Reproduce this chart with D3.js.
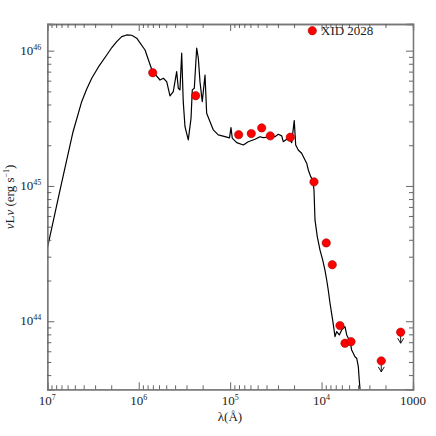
<!DOCTYPE html>
<html>
<head>
<meta charset="utf-8">
<script src="https://cdnjs.cloudflare.com/ajax/libs/d3/7.8.5/d3.min.js"></script>
<style>
  body { margin: 0; background: #fff; }
  text { font-family: "Liberation Serif", "DejaVu Serif", serif; fill: #222; }
</style>
</head>
<body>
<div id="chart"></div>
<script>
// template SED, log10 lambda (A) and log10 nuLnu (erg/s)
var sedLogLam = [7.000, 6.861, 6.719, 6.624, 6.571, 6.514, 6.431, 6.350, 6.292, 6.241, 6.186, 6.132,
  6.077, 6.022, 5.931,
  5.852, 5.767, 5.731, 5.694, 5.658, 5.622, 5.585, 5.567, 5.549, 5.530,
  5.513, 5.494, 5.458, 5.428, 5.414, 5.392, 5.366, 5.348, 5.330, 5.305,
  5.275, 5.257, 5.220, 5.184, 5.130, 5.056, 5.007, 4.991, 4.977, 4.928,
  4.856, 4.802, 4.728, 4.674, 4.638, 4.583, 4.510, 4.474, 4.436, 4.419,
  4.382, 4.345, 4.327, 4.299, 4.283, 4.255, 4.218, 4.181, 4.163, 4.145,
  4.119, 4.097, 4.083, 4.072, 4.047, 4.017, 3.988, 3.963, 3.944, 3.927,
  3.908, 3.879, 3.853, 3.835, 3.806, 3.780, 3.744, 3.725, 3.689, 3.671,
  3.653, 3.635, 3.616, 3.598, 3.588, 3.569];
var sedLogL = [44.538, 44.970, 45.399, 45.623, 45.713, 45.796, 45.890, 45.968, 46.025, 46.067, 46.104, 46.116,
  46.114, 46.092, 46.005,
  45.850, 45.783, 45.796, 45.771, 45.665, 45.697, 45.845, 45.722, 45.710, 45.981,
  45.623, 45.438, 45.340, 45.500, 45.710, 45.722, 46.018, 45.944, 45.771, 45.623,
  45.820, 45.537, 45.475, 45.414, 45.377, 45.364, 45.355, 45.431, 45.353, 45.320,
  45.303, 45.327, 45.345, 45.364, 45.357, 45.360, 45.364, 45.382, 45.370, 45.327,
  45.345, 45.340, 45.320, 45.483, 45.303, 45.266, 45.242, 45.192, 45.168, 45.118,
  45.069, 45.044, 44.970, 44.749, 44.626, 44.525, 44.453, 44.378, 44.305, 44.231,
  44.135, 44.010, 43.886, 43.923, 43.899, 43.936, 43.960, 43.899, 43.849, 43.788,
  43.763, 43.738, 43.727, 43.665, 43.566, 43.418];

// photometry of XID 2028
var photLogLam = [5.847, 5.377, 4.907, 4.769, 4.655, 4.561, 4.342, 4.083, 3.949, 3.883,
  3.799, 3.744, 3.678, 3.347, 3.135];
var photLogL = [45.837, 45.667, 45.379, 45.387, 45.429, 45.370, 45.360, 45.030, 44.579, 44.418,
  43.968, 43.837, 43.849, 43.707, 43.919];
var photUpper = [0, 0, 0, 0, 0, 0, 0, 0, 0, 0, 0, 0, 0, 1, 1];

var xMajor = [1e7, 1e6, 1e5, 1e4, 1e3];
var xLabels = [["10", "7"], ["10", "6"], ["10", "5"], ["10", "4"], ["1000", ""]];
var yMajor = [1e44, 1e45, 1e46];
var yLabels = [["10", "44"], ["10", "45"], ["10", "46"]];

var width = 436, height = 436;
var mLeft = 47.3, mRight = 413, mTop = 24, mBottom = 389.3;

var svg = d3.select("#chart").append("svg")
  .attr("width", width)
  .attr("height", height);

var x = d3.scaleLog().domain([1e7, 1e3]).range([mLeft, mRight]);
var y = d3.scaleLog().domain([Math.pow(10, 43.497), Math.pow(10, 46.197)]).range([mBottom, mTop]);

function minors(lo, hi) {
  var out = [];
  for (var e = lo; e < hi; e++) {
    for (var m = 2; m <= 9; m++) out.push(m * Math.pow(10, e));
  }
  return out;
}
var xMinor = minors(3, 7);
var yMinor = minors(43, 46).filter(function(v) {
  return v > y.domain()[0] && v < y.domain()[1];
});

svg.append("clipPath").attr("id", "clip")
  .append("rect")
  .attr("x", mLeft).attr("y", mTop)
  .attr("width", mRight - mLeft).attr("height", mBottom - mTop);

// SED line
var sed = sedLogLam.map(function(d, i) { return [Math.pow(10, d), Math.pow(10, sedLogL[i])]; });
svg.append("path")
  .datum(sed)
  .attr("clip-path", "url(#clip)")
  .attr("fill", "none")
  .attr("stroke", "#000")
  .attr("stroke-width", 1.2)
  .attr("stroke-linejoin", "round")
  .attr("d", d3.line()
    .x(function(d) { return x(d[0]); })
    .y(function(d) { return y(d[1]); }));

// axes with inward ticks
function drawAxis(axisFn, scale, tr, major, minor) {
  [[major, 7], [minor, 4]].forEach(function(t) {
    var g = svg.append("g")
      .attr("transform", tr)
      .call(axisFn(scale).tickValues(t[0]).tickSize(-t[1]).tickFormat(""));
    g.selectAll("line").attr("stroke", "#555").attr("stroke-width", 0.9);
    g.select(".domain").attr("stroke", "#777").attr("stroke-width", 1.3);
  });
}
drawAxis(d3.axisBottom, x, "translate(0," + mBottom + ")", xMajor, xMinor);
drawAxis(d3.axisTop, x, "translate(0," + mTop + ")", xMajor, xMinor);
drawAxis(d3.axisLeft, y, "translate(" + mLeft + ",0)", yMajor, yMinor);
drawAxis(d3.axisRight, y, "translate(" + mRight + ",0)", yMajor, yMinor);

// tick labels
xMajor.forEach(function(v, i) {
  var t = svg.append("text")
    .attr("x", x(v))
    .attr("y", mBottom + 16)
    .attr("text-anchor", "middle")
    .attr("font-size", 13);
  t.append("tspan").text(xLabels[i][0]);
  if (xLabels[i][1]) t.append("tspan").attr("dy", -5).attr("font-size", 8).text(xLabels[i][1]);
});
yMajor.forEach(function(v, i) {
  var t = svg.append("text")
    .attr("x", mLeft - 6)
    .attr("y", y(v) + 4)
    .attr("text-anchor", "end")
    .attr("font-size", 13);
  t.append("tspan").text(yLabels[i][0]);
  t.append("tspan").attr("dy", -5).attr("font-size", 8).text(yLabels[i][1]);
});

// axis titles
svg.append("text")
  .attr("x", 230)
  .attr("y", 421)
  .attr("text-anchor", "middle")
  .attr("font-size", 13)
  .text("λ(Å)");

var yt = svg.append("text")
  .attr("transform", "translate(14,197) rotate(-90)")
  .attr("text-anchor", "middle")
  .attr("font-size", 13);
yt.append("tspan").attr("font-style", "italic").text("ν");
yt.append("tspan").text("L");
yt.append("tspan").attr("font-style", "italic").text("ν");
yt.append("tspan").text(" (erg s");
yt.append("tspan").attr("dy", -5).attr("font-size", 8).text("−1");
yt.append("tspan").attr("dy", 5).text(")");

// photometry points
var phot = photLogLam.map(function(d, i) {
  return { lam: Math.pow(10, d), L: Math.pow(10, photLogL[i]), upper: photUpper[i] };
});

var lims = svg.selectAll(".limit")
  .data(phot.filter(function(d) { return d.upper; }))
  .enter().append("g")
  .attr("class", "limit")
  .attr("transform", function(d) { return "translate(" + x(d.lam) + "," + y(d.L) + ")"; })
  .attr("stroke", "#000")
  .attr("stroke-width", 0.9)
  .attr("fill", "none");
lims.append("path").attr("d", "M0,0V11M-3,6L0,11L3,6");

svg.selectAll(".phot")
  .data(phot)
  .enter().append("circle")
  .attr("class", "phot")
  .attr("cx", function(d) { return x(d.lam); })
  .attr("cy", function(d) { return y(d.L); })
  .attr("r", 4.2)
  .attr("fill", "#ff0000")
  .attr("stroke", "#8a0000")
  .attr("stroke-width", 0.5);

lims.append("path").attr("d", "M-4.2,0H4.2");

// legend
svg.append("circle")
  .attr("cx", 312.3).attr("cy", 30.7).attr("r", 4.2)
  .attr("fill", "#ff0000").attr("stroke", "#8a0000").attr("stroke-width", 0.5);
svg.append("text")
  .attr("x", 321)
  .attr("y", 35)
  .attr("font-size", 13)
  .text("XID 2028");
</script>
</body>
</html>
